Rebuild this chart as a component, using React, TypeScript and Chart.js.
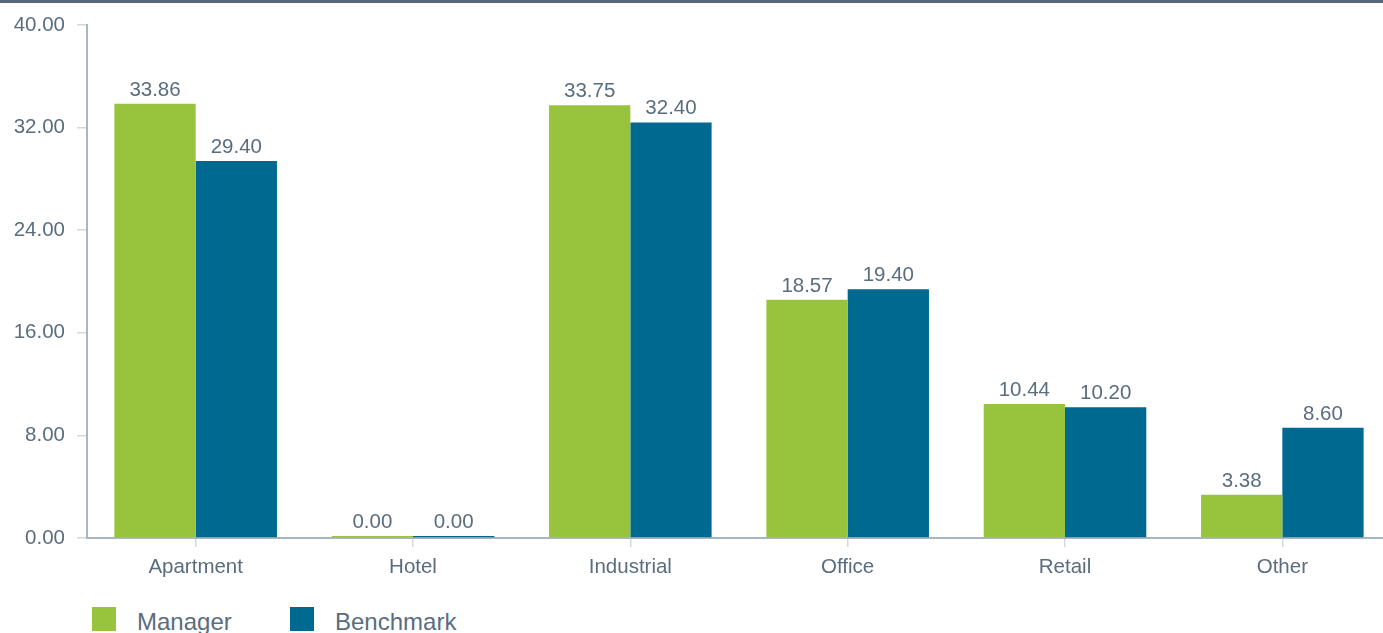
import React, { useEffect, useRef } from "react";
import { Chart, registerables } from "chart.js";

Chart.register(...registerables);

const categories = ["Apartment", "Hotel", "Industrial", "Office", "Retail", "Other"];
const managerValues = [33.86, 0.0, 33.75, 18.57, 10.44, 3.38];
const benchmarkValues = [29.4, 0.0, 32.4, 19.4, 10.2, 8.6];
const seriesNames = ["Manager", "Benchmark"];
const yTicks = [0, 8, 16, 24, 32, 40];

const GREEN = "#97c33d";
const BLUE = "#006990";
const TEXT = "#5a6d7f";
const FONT = "'Liberation Sans', Arial, Helvetica, sans-serif";

const valueLabels = {
  id: "valueLabels",
  afterDatasetsDraw(chart: any) {
    const ctx = chart.ctx;
    ctx.save();
    ctx.font = `20.5px ${FONT}`;
    ctx.fillStyle = TEXT;
    ctx.textAlign = "center";
    ctx.textBaseline = "alphabetic";
    chart.data.datasets.forEach((ds: any, i: number) => {
      const meta = chart.getDatasetMeta(i);
      meta.data.forEach((bar: any, j: number) => {
        const v = ds.data[j] as number;
        ctx.fillText(v.toFixed(2), bar.x, bar.y - 8);
      });
    });
    ctx.restore();
  },
};

export default function App() {
  const ref = useRef<HTMLCanvasElement | null>(null);

  useEffect(() => {
    document.body.style.margin = "0";
    document.body.style.overflow = "hidden";
    const canvas = ref.current!;
    const chart = new Chart(canvas, {
      type: "bar",
      data: {
        labels: categories,
        datasets: [
          {
            label: seriesNames[0],
            data: managerValues,
            backgroundColor: GREEN,
            borderWidth: 0,
            minBarLength: 2,
          },
          {
            label: seriesNames[1],
            data: benchmarkValues,
            backgroundColor: BLUE,
            borderWidth: 0,
            minBarLength: 2,
          },
        ],
      },
      options: {
        responsive: false,
        animation: false,
        layout: { padding: { top: 25, left: 0, right: 0, bottom: 0 } },
        datasets: { bar: { barPercentage: 1, categoryPercentage: 0.748 } },
        plugins: {
          legend: { display: false },
          tooltip: { enabled: false },
        },
        scales: {
          x: {
            grid: {
              display: true,
              offset: false,
              drawOnChartArea: false,
              drawTicks: true,
              tickLength: 9,
              color: "#d3d8dd",
              lineWidth: 1.5,
            },
            border: { display: true, color: "#a9b5c1", width: 2 },
            ticks: {
              color: TEXT,
              font: { family: FONT, size: 20.5 },
              padding: 8,
              maxRotation: 0,
            },
            afterFit(scale: any) {
              scale.height = 52;
            },
          },
          y: {
            min: 0,
            max: 40,
            afterBuildTicks(scale: any) {
              scale.ticks = yTicks.map((v) => ({ value: v }));
            },
            grid: {
              display: true,
              drawOnChartArea: false,
              drawTicks: true,
              tickLength: 10,
              color: "#d3d8dd",
              lineWidth: 1.5,
            },
            border: { display: true, color: "#a9b5c1", width: 2 },
            ticks: {
              color: TEXT,
              font: { family: FONT, size: 20.5 },
              padding: 12,
              callback: (v: any) => Number(v).toFixed(2),
            },
            afterFit(scale: any) {
              scale.width = 87;
            },
          },
        },
      },
      plugins: [valueLabels],
    });
    return () => chart.destroy();
  }, []);

  const legendItem = (name: string, color: string, left: number) => (
    <div
      key={name}
      style={{
        position: "absolute",
        left,
        top: 607,
        display: "flex",
        alignItems: "center",
        height: 24,
      }}
    >
      <div style={{ width: 24, height: 24, background: color }} />
      <span
        style={{
          marginLeft: 21,
          fontFamily: FONT,
          fontSize: 24,
          color: TEXT,
          lineHeight: "24px",
          whiteSpace: "nowrap",
          position: "relative",
          top: 3,
        }}
      >
        {name}
      </span>
    </div>
  );

  return (
    <div style={{ position: "relative", width: 1383, height: 633, overflow: "hidden" }}>
      <canvas
        ref={ref}
        width={1391}
        height={590}
        style={{ position: "absolute", left: 0, top: 0, width: 1391, height: 590 }}
      />
      <div
        style={{
          position: "absolute",
          left: 0,
          top: 0,
          width: "100%",
          height: 3,
          background: "#56687a",
        }}
      />
      {legendItem(seriesNames[0], GREEN, 92)}
      {legendItem(seriesNames[1], BLUE, 290)}
    </div>
  );
}
